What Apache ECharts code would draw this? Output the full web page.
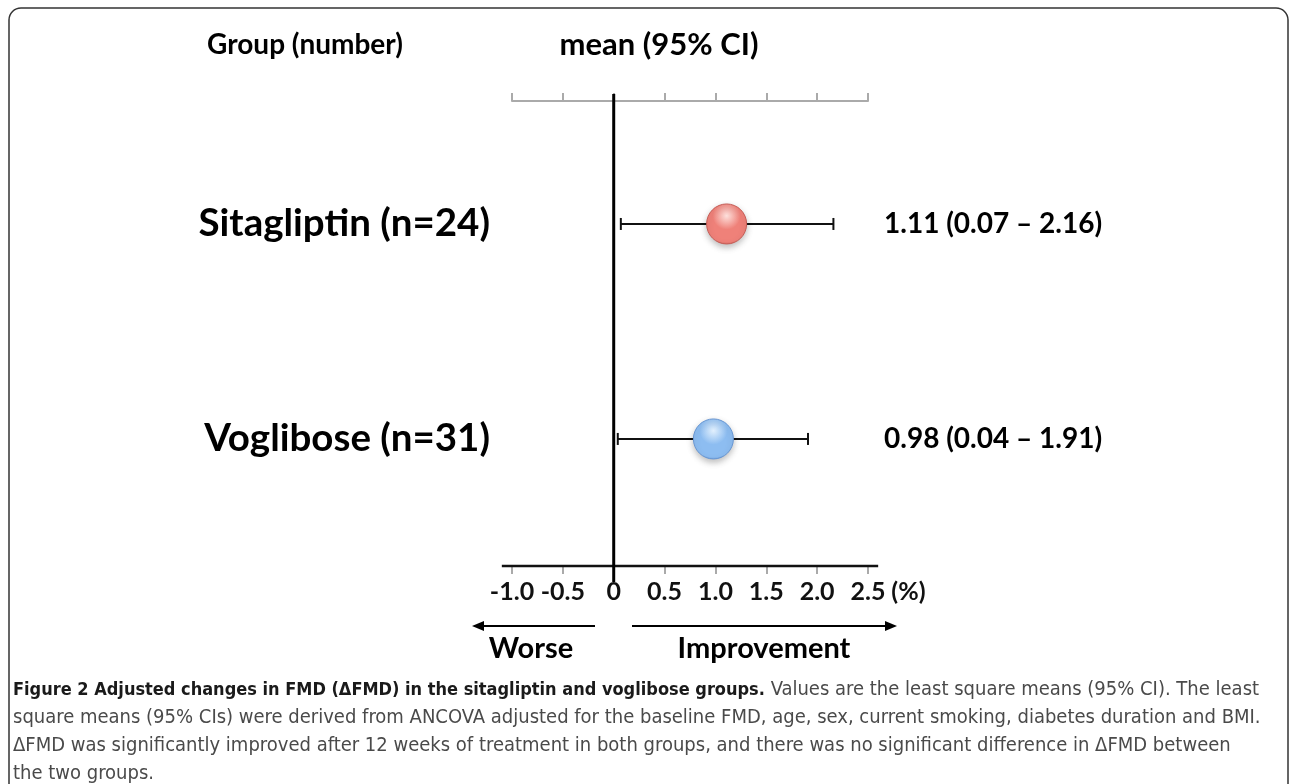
<!DOCTYPE html>
<html><head><meta charset="utf-8">
<script src="https://cdn.jsdelivr.net/npm/echarts@6/dist/echarts.min.js"></script>
<style>html,body{margin:0;padding:0;background:#fff}#c{width:1290px;height:784px}</style>
</head><body><div id="c"></div>
<script>
// ---- data ----
const groups = ['Sitagliptin (n=24)', 'Voglibose (n=31)'];
const means = [1.11, 0.98];
const ciLow = [0.07, 0.04];
const ciHigh = [2.16, 1.91];
const xMin = -1.0, xMax = 2.5, xStep = 0.5;
const baseLineExtent = [-1.1, 2.6];
const headers = ['Group (number)', 'mean (95% CI)'];
const captionBold = 'Figure 2 Adjusted changes in FMD (\u0394FMD) in the sitagliptin and voglibose groups.';
const captionLines = [
  ' Values are the least square means (95% CI). The least',
  'square means (95% CIs) were derived from ANCOVA adjusted for the baseline FMD, age, sex, current smoking, diabetes duration and BMI.',
  '\u0394FMD was significantly improved after 12 weeks of treatment in both groups, and there was no significant difference in \u0394FMD between',
  'the two groups.'
];
const palette = [
  {hi:'#fde0dc', body:'#ef8179', rim:'#c65c55'},
  {hi:'#e2f0fd', body:'#8dbdf1', rim:'#6796d3'}
];

const yMin = -0.572, yMax = 1.591;
const rows = groups.map((g, i) => [i, means[i], ciLow[i], ciHigh[i]]);
const F = 'Lato, "Open Sans", sans-serif';
const CF = '"Liberation Sans Narrow", "DejaVu Sans Condensed", "Open Sans", sans-serif';

const chart = echarts.init(document.getElementById('c'));
chart.setOption({
  animation: false,
  backgroundColor: '#fff',
  grid: {left: 512, right: 422, top: 101, bottom: 218},
  xAxis: [{
    type: 'value', min: xMin, max: xMax, interval: xStep, position: 'bottom',
    splitLine: {show: false}, axisLine: {show: false, onZero: false},
    axisTick: {show: true, length: 8, lineStyle: {color: '#aaa', width: 2}},
    axisLabel: {margin: 13, color: '#111', fontFamily: F, fontWeight: 'bold', fontSize: 25,
      formatter: v => (Math.abs(v) < 1e-9 ? '0' : v.toFixed(1))},
    name: '(%)', nameLocation: 'end', nameGap: 7,
    nameTextStyle: {color: '#111', fontFamily: F, fontWeight: 'bold', fontSize: 25, verticalAlign: 'top', padding: [13, 0, 0, 0]}
  }, {
    type: 'value', min: xMin, max: xMax, interval: xStep, position: 'top',
    splitLine: {show: false},
    axisLine: {show: true, onZero: false, lineStyle: {color: '#aaa', width: 2}},
    axisTick: {show: true, length: 8, lineStyle: {color: '#aaa', width: 2}},
    axisLabel: {show: false}
  }],
  yAxis: {type: 'value', min: yMin, max: yMax, inverse: true, show: false},
  series: [
    {
      type: 'custom', xAxisIndex: 0, clip: false, z: 4, silent: true,
      encode: {x: [0, 1], y: [2, 3]},
      data: [[baseLineExtent[0], baseLineExtent[1], yMin, yMax]],
      renderItem: function (params, api) {
        const a = api.coord([api.value(0), api.value(3)]);
        const b = api.coord([api.value(1), api.value(3)]);
        const zTop = api.coord([0, api.value(2)]);
        const zBot = api.coord([0, api.value(3)]);
        return {type: 'group', children: [
          {type: 'line', shape: {x1: a[0], y1: a[1], x2: b[0], y2: b[1]}, style: {stroke: '#111', lineWidth: 2.5}},
          {type: 'line', shape: {x1: zTop[0], y1: zTop[1] - 7, x2: zBot[0], y2: zBot[1] + 16}, style: {stroke: '#000', lineWidth: 3}}
        ]};
      }
    },
    {
      type: 'custom', xAxisIndex: 0, clip: false, z: 5,
      encode: {x: [1, 2, 3], y: 0},
      data: rows,
      renderItem: function (params, api) {
        const i = api.value(0);
        const m = api.coord([api.value(1), i]);
        const lo = api.coord([api.value(2), i]);
        const hi = api.coord([api.value(3), i]);
        const left = api.coord([xMin, i]);
        const right = api.coord([xMax, i]);
        const c = palette[params.dataIndex];
        const cap = 6, r = 20;
        return {type: 'group', children: [
          {type: 'line', shape: {x1: lo[0], y1: m[1], x2: hi[0], y2: m[1]}, style: {stroke: '#111', lineWidth: 2}},
          {type: 'line', shape: {x1: lo[0], y1: m[1] - cap, x2: lo[0], y2: m[1] + cap}, style: {stroke: '#111', lineWidth: 2}},
          {type: 'line', shape: {x1: hi[0], y1: m[1] - cap, x2: hi[0], y2: m[1] + cap}, style: {stroke: '#111', lineWidth: 2}},
          {type: 'circle', shape: {cx: m[0], cy: m[1], r: r}, style: {
            fill: {type: 'radial', x: 0.5, y: 0.3, r: 0.75, colorStops: [
              {offset: 0, color: c.hi}, {offset: 0.45, color: c.body}, {offset: 0.85, color: c.body}, {offset: 1, color: c.rim}]},
            stroke: c.rim, lineWidth: 1,
            shadowBlur: 6, shadowOffsetY: 3, shadowColor: 'rgba(0,0,0,0.25)'}},
          {type: 'text', x: left[0] - 22, y: m[1], style: {
            text: groups[params.dataIndex], fill: '#000', font: 'bold 38.5px ' + F,
            align: 'right', verticalAlign: 'middle'}},
          {type: 'text', x: right[0] + 16, y: m[1], style: {
            text: means[params.dataIndex].toFixed(2) + ' (' + ciLow[params.dataIndex].toFixed(2) + ' \u2013 ' + ciHigh[params.dataIndex].toFixed(2) + ')',
            fill: '#000', font: 'bold 28px ' + F, align: 'left', verticalAlign: 'middle'}}
        ]};
      }
    }
  ],
  graphic: [
    {type: 'rect', shape: {x: 9, y: 8, width: 1279, height: 820, r: 12}, style: {fill: 'none', stroke: '#333', lineWidth: 1.5}, silent: true},
    {type: 'text', x: 305, y: 45, style: {text: headers[0], font: 'bold 28px ' + F, fill: '#000', align: 'center', verticalAlign: 'middle'}},
    {type: 'text', x: 659, y: 45, style: {text: headers[1], font: 'bold 31px ' + F, fill: '#000', align: 'center', verticalAlign: 'middle'}},
    {type: 'line', shape: {x1: 595, y1: 626, x2: 480, y2: 626}, style: {stroke: '#000', lineWidth: 2}},
    {type: 'polygon', shape: {points: [[472, 626], [484, 621], [484, 631]]}, style: {fill: '#000'}},
    {type: 'line', shape: {x1: 632, y1: 626, x2: 888, y2: 626}, style: {stroke: '#000', lineWidth: 2}},
    {type: 'polygon', shape: {points: [[897, 626], [885, 621], [885, 631]]}, style: {fill: '#000'}},
    {type: 'text', x: 531, y: 649, style: {text: 'Worse', font: 'bold 29px ' + F, fill: '#000', align: 'center', verticalAlign: 'middle'}},
    {type: 'text', x: 764, y: 649, style: {text: 'Improvement', font: 'bold 29px ' + F, fill: '#000', align: 'center', verticalAlign: 'middle'}},
    {type: 'text', x: 13, y: 690, style: {
      text: '{b|' + captionBold + '}{n|' + captionLines[0] + '}',
      verticalAlign: 'middle',
      rich: {b: {font: 'bold 18px ' + CF, fill: '#1a1a1a'}, n: {font: '20px ' + CF, fill: '#4a4a4a'}}}},
    {type: 'text', x: 13, y: 718, style: {text: captionLines[1], font: '20px ' + CF, fill: '#4a4a4a', verticalAlign: 'middle'}},
    {type: 'text', x: 13, y: 746, style: {text: captionLines[2], font: '20px ' + CF, fill: '#4a4a4a', verticalAlign: 'middle'}},
    {type: 'text', x: 13, y: 774, style: {text: captionLines[3], font: '20px ' + CF, fill: '#4a4a4a', verticalAlign: 'middle'}}
  ]
});
</script></body></html>
